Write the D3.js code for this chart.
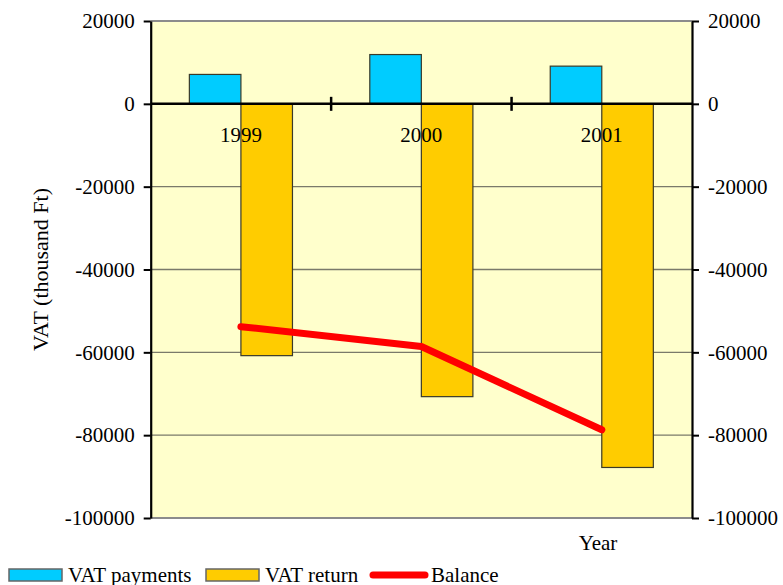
<!DOCTYPE html>
<html>
<head>
<meta charset="utf-8">
<script src="https://cdn.jsdelivr.net/npm/d3@7"></script>
<style>
  body { margin: 0; background: #fff; }
  svg text { font-family: "Liberation Serif", "Times New Roman", serif; fill: #000; }
</style>
</head>
<body>
<svg id="chart" width="783" height="585"></svg>
<script>
// values (thousand Ft)
const years = ['1999', '2000', '2001'];
const vatPayments = [7100, 11900, 9100];
const vatReturn = [-60800, -70700, -87800];
const balance = [-53800, -58600, -78700];
const yTicks = [20000, 0, -20000, -40000, -60000, -80000, -100000];
const seriesNames = ['VAT payments', 'VAT return', 'Balance'];

const colors = { pay: '#00CCFF', ret: '#FFCC00', bal: '#FF0000' };

const svg = d3.select('#chart');
const plotLeft = 150.7, plotRight = 692, plotTop = 21, plotBottom = 518;
const fontSize = '21px';

const x = d3.scaleBand().domain(years).range([plotLeft, plotRight]).padding(0);
const sub = d3.scaleBand().domain(['pay', 'ret'])
  .range([0, x.bandwidth()]).paddingInner(0).paddingOuter(0.75);
const y = d3.scaleLinear().domain([-100000, 20000]).range([plotBottom, plotTop]);

// plot area background
svg.append('rect')
  .attr('x', plotLeft).attr('y', plotTop)
  .attr('width', plotRight - plotLeft).attr('height', plotBottom - plotTop)
  .attr('fill', '#FFFFCC');

// gridlines
svg.append('g')
  .selectAll('line')
  .data(yTicks.filter(d => d !== 0 && d !== 20000 && d !== -100000))
  .enter()
    .append('line')
    .attr('x1', plotLeft).attr('x2', plotRight)
    .attr('y1', d => y(d)).attr('y2', d => y(d))
    .attr('stroke', '#7a7a6a')
    .attr('stroke-width', 1.3);

// top and bottom frame of the plot area
svg.append('line')
  .attr('x1', plotLeft).attr('x2', plotRight).attr('y1', y(20000)).attr('y2', y(20000))
  .attr('stroke', '#8c8c8c').attr('stroke-width', 2);
svg.append('line')
  .attr('x1', plotLeft).attr('x2', plotRight).attr('y1', y(-100000)).attr('y2', y(-100000))
  .attr('stroke', '#8c8c8c').attr('stroke-width', 2);

// bars
const barData = [];
years.forEach((yr, i) => {
  barData.push({ year: yr, key: 'pay', value: vatPayments[i] });
  barData.push({ year: yr, key: 'ret', value: vatReturn[i] });
});

svg.append('g')
  .selectAll('rect')
  .data(barData)
  .enter()
    .append('rect')
    .attr('x', d => x(d.year) + sub(d.key))
    .attr('width', sub.bandwidth())
    .attr('y', d => y(Math.max(0, d.value)))
    .attr('height', d => Math.abs(y(d.value) - y(0)))
    .attr('fill', d => colors[d.key])
    .attr('stroke', '#3a3a2a')
    .attr('stroke-width', 1.2);

// left axis
const fmt = d => String(d);
const yLeft = svg.append('g')
  .attr('transform', `translate(${plotLeft},0)`)
  .call(d3.axisLeft(y).tickValues(yTicks).tickFormat(fmt).tickSize(7).tickSizeOuter(0).tickPadding(9));

// right axis
const yRight = svg.append('g')
  .attr('transform', `translate(${plotRight},0)`)
  .call(d3.axisRight(y).tickValues(yTicks).tickFormat(fmt).tickSize(7).tickSizeOuter(0).tickPadding(9));

[yLeft, yRight].forEach(g => {
  g.attr('font-family', null).attr('font-size', null);
  g.select('.domain').attr('stroke', '#000').attr('stroke-width', 2.2);
  g.selectAll('.tick line').attr('stroke', '#000').attr('stroke-width', 2);
  g.selectAll('text')
    .style('font-family', '"Liberation Serif", "Times New Roman", serif')
    .style('font-size', fontSize)
    .attr('fill', '#000');
});

// zero category axis with cross ticks
svg.append('line')
  .attr('x1', plotLeft).attr('x2', plotRight).attr('y1', y(0)).attr('y2', y(0))
  .attr('stroke', '#000').attr('stroke-width', 2.5);

svg.append('g')
  .selectAll('line')
  .data(years.slice(1))
  .enter()
    .append('line')
    .attr('x1', d => x(d)).attr('x2', d => x(d))
    .attr('y1', y(0) - 7).attr('y2', y(0) + 7)
    .attr('stroke', '#000').attr('stroke-width', 2.5);

// balance line
const line = d3.line()
  .x((d, i) => x(years[i]) + x.bandwidth() / 2)
  .y(d => y(d));

svg.append('path')
  .datum(balance)
  .attr('d', line)
  .attr('fill', 'none')
  .attr('stroke', colors.bal)
  .attr('stroke-width', 7)
  .attr('stroke-linecap', 'round')
  .attr('stroke-linejoin', 'round');

// category labels
svg.append('g')
  .selectAll('text')
  .data(years)
  .enter()
    .append('text')
    .attr('x', d => x(d) + x.bandwidth() / 2)
    .attr('y', 142)
    .attr('text-anchor', 'middle')
    .style('font-size', fontSize)
    .text(d => d);

// axis titles
svg.append('text')
  .attr('transform', `translate(48,${(plotTop + plotBottom) / 2}) rotate(-90)`)
  .attr('text-anchor', 'middle')
  .style('font-size', '22px')
  .text('VAT (thousand Ft)');

svg.append('text')
  .attr('x', 598).attr('y', 550)
  .attr('text-anchor', 'middle')
  .style('font-size', fontSize)
  .text('Year');

// legend
const legend = svg.append('g').attr('transform', 'translate(0,575)');
const legendItems = [
  { name: seriesNames[0], key: 'pay', x: 9 },
  { name: seriesNames[1], key: 'ret', x: 206 },
  { name: seriesNames[2], key: 'bal', x: 370 }
];

legendItems.forEach(it => {
  if (it.key === 'bal') {
    legend.append('line')
      .attr('x1', it.x + 3).attr('x2', it.x + 55)
      .attr('y1', 0).attr('y2', 0)
      .attr('stroke', colors.bal).attr('stroke-width', 7)
      .attr('stroke-linecap', 'round');
  } else {
    legend.append('rect')
      .attr('x', it.x).attr('y', -6)
      .attr('width', 53).attr('height', 12)
      .attr('fill', colors[it.key])
      .attr('stroke', '#666').attr('stroke-width', 1.5);
  }
  legend.append('text')
    .attr('x', it.x + (it.key === 'bal' ? 61 : 59))
    .attr('y', 7)
    .style('font-size', fontSize)
    .text(it.name);
});
</script>
</body>
</html>
